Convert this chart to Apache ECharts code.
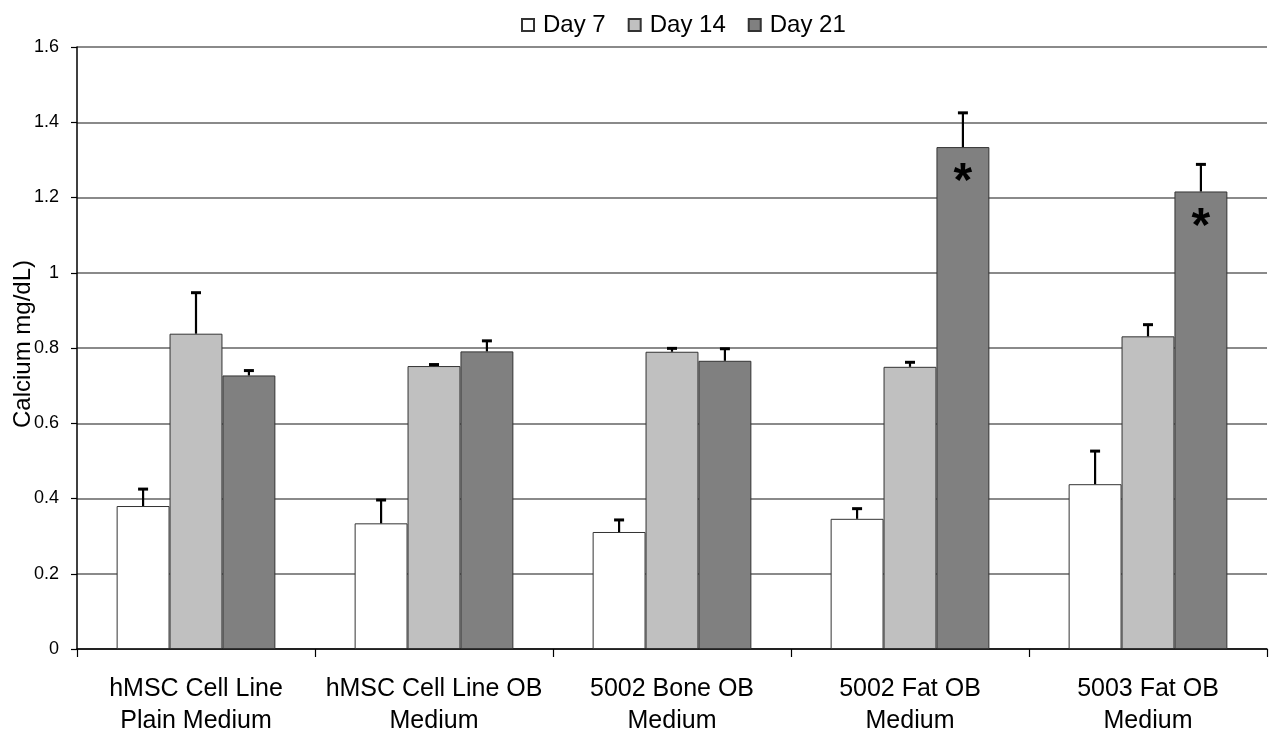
<!DOCTYPE html>
<html>
<head>
<meta charset="utf-8">
<script src="https://cdn.jsdelivr.net/npm/echarts@6/dist/echarts.min.js"></script>
<style>
  html, body { margin: 0; padding: 0; background: #fff; }
  #chart { width: 1277px; height: 732px; }
</style>
</head>
<body>
<div id="chart"></div>
<script>
// Calcium deposition per culture condition, measured at three time points
const categories = [
  'hMSC Cell Line\nPlain Medium',
  'hMSC Cell Line OB\nMedium',
  '5002 Bone OB\nMedium',
  '5002 Fat OB\nMedium',
  '5003 Fat OB\nMedium'
];
const seriesNames = ['Day 7', 'Day 14', 'Day 21'];

const day7 = [0.380, 0.334, 0.311, 0.346, 0.438];
const day7Err = [0.045, 0.062, 0.032, 0.027, 0.088];

const day14 = [0.838, 0.752, 0.790, 0.750, 0.831];
const day14Err = [0.109, 0.004, 0.009, 0.012, 0.031];

const day21 = [0.727, 0.791, 0.766, 1.334, 1.216];
const day21Err = [0.013, 0.028, 0.032, 0.091, 0.072];

// significance markers drawn inside the Day 21 bars
const day21Marks = ['', '', '', '*', '*'];

const yTicks = [0, 0.2, 0.4, 0.6, 0.8, 1, 1.2, 1.4, 1.6];

const values = [day7, day14, day21];
const errors = [day7Err, day14Err, day21Err];
const fills = ['#ffffff', '#c0c0c0', '#808080'];
const CATEGORY_GAP = 0.333;
const FONT = 'Liberation Sans, Arial, sans-serif';

function barSeries(idx) {
  return {
    name: seriesNames[idx],
    type: 'bar',
    barGap: '0%',
    barCategoryGap: (CATEGORY_GAP * 100) + '%',
    itemStyle: { color: fills[idx], borderColor: '#333', borderWidth: 1 },
    data: values[idx].map((v, i) => {
      const d = { value: v };
      if (idx === 2 && day21Marks[i]) {
        d.label = {
          show: true,
          formatter: day21Marks[i],
          position: 'insideTop',
          distance: 12,
          fontSize: 48,
          fontWeight: 'bold',
          fontFamily: FONT,
          color: '#000'
        };
      }
      return d;
    }),
    z: 2
  };
}

function errorSeries(idx) {
  return {
    name: seriesNames[idx] + ' error',
    type: 'custom',
    z: 5,
    silent: true,
    data: values[idx].map((v, i) => [i, v, v + errors[idx][i]]),
    renderItem: function (params, api) {
      const cat = api.value(0);
      const band = api.size([1, 0])[0];
      const bw = band * (1 - CATEGORY_GAP) / 3;
      const base = api.coord([cat, api.value(1)]);
      const top = api.coord([cat, api.value(2)]);
      const x = base[0] + (idx - 1) * bw;
      const cap = 5;
      return {
        type: 'group',
        children: [
          { type: 'line', shape: { x1: x, y1: base[1], x2: x, y2: top[1] }, style: { stroke: '#000', lineWidth: 2.2 } },
          { type: 'line', shape: { x1: x - cap, y1: top[1], x2: x + cap, y2: top[1] }, style: { stroke: '#000', lineWidth: 3 } }
        ]
      };
    }
  };
}

const chart = echarts.init(document.getElementById('chart'), null, { renderer: 'canvas' });

chart.setOption({
  animation: false,
  backgroundColor: '#fff',
  textStyle: { fontFamily: FONT, color: '#000' },
  legend: {
    data: seriesNames,
    top: 8,
    left: 516,
    itemWidth: 12,
    itemHeight: 12,
    itemGap: 22,
    icon: 'rect',
    textStyle: { fontSize: 24, color: '#000', padding: [0, 0, 0, 4] }
  },
  grid: { left: 77, right: 10, top: 47, bottom: 83, containLabel: false, outerBoundsMode: 'none' },
  xAxis: {
    type: 'category',
    data: categories,
    axisLine: { lineStyle: { color: '#000', width: 1.5 } },
    axisTick: { show: true, length: 8, lineStyle: { color: '#000', width: 1.2 } },
    axisLabel: { fontSize: 25, lineHeight: 32, color: '#000', margin: 24, interval: 0 }
  },
  yAxis: {
    type: 'value',
    min: yTicks[0],
    max: yTicks[yTicks.length - 1],
    interval: 0.2,
    name: 'Calcium mg/dL)',
    nameLocation: 'middle',
    nameRotate: 90,
    nameGap: 42,
    nameMoveOverlap: false,
    nameTextStyle: { fontSize: 24, color: '#000', padding: [0, 0, 0, 8] },
    axisLine: { show: true, lineStyle: { color: '#000', width: 1.5 } },
    axisTick: { show: true, length: 6, lineStyle: { color: '#000', width: 1.2 } },
    axisLabel: {
      fontSize: 18, color: '#000', margin: 18,
      formatter: v => yTicks.find(t => Math.abs(t - v) < 1e-9) !== undefined ? String(+v.toFixed(1)) : ''
    },
    splitLine: { show: true, lineStyle: { color: '#8a8a8a', width: 2 } }
  },
  series: [
    barSeries(0), barSeries(1), barSeries(2),
    errorSeries(0), errorSeries(1), errorSeries(2)
  ]
});
</script>
</body>
</html>
